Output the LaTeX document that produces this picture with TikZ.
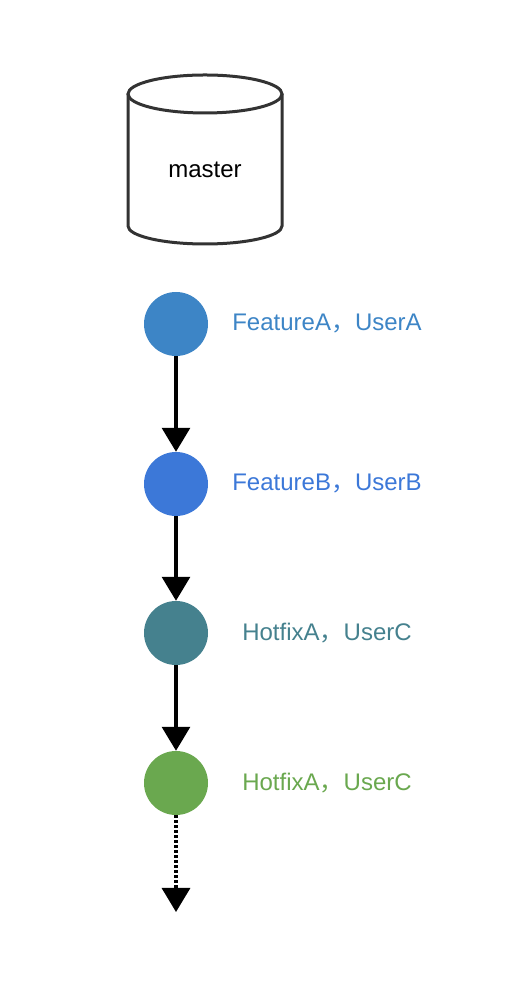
\documentclass[tikz,border=0pt]{standalone}
\usepackage{fontspec}
\setmainfont{Liberation Sans}
\newfontfamily\cjk{Noto Sans CJK SC}
\usetikzlibrary{arrows.meta}

\definecolor{blueA}{HTML}{3D85C6}
\definecolor{blueB}{HTML}{3C78D8}
\definecolor{tealC}{HTML}{45818E}
\definecolor{greenD}{HTML}{6AA84F}
\definecolor{dbline}{HTML}{333333}

\tikzset{
	commit/.style={circle,fill=#1,minimum size=64pt,inner sep=0pt},
	tag/.style={text=#1,font=\fontsize{24}{28}\selectfont},
	db/.style={draw=dbline,line width=3pt},
	flow/.style={->,line width=3.2pt}
}

\begin{document}
\begin{tikzpicture}[x=1pt,y=1pt,>={Triangle[length=24pt,width=28pt]}]
	\useasboundingbox (0,0) rectangle (526,982);

	% master database
	\draw[db,fill=white] (128,888) -- (128,756) arc[start angle=180,end angle=360,x radius=77,y radius=18] -- (282,888);
	\draw[db] (205,888) ellipse [x radius=77,y radius=19];
	\node[font=\fontsize{24}{28}\selectfont] (master) at (205,812) {master};

	% commits
	\node[commit=blueA]  (A) at (176,658) {};
	\node[commit=blueB]  (B) at (176,498) {};
	\node[commit=tealC]  (C) at (176,349) {};
	\node[commit=greenD] (D) at (176,199) {};
	\coordinate (E) at (176,70);

	\node[tag=blueA]  (tA) at (327,658) {FeatureA{\cjk ，}UserA};
	\node[tag=blueB]  (tB) at (327,498) {FeatureB{\cjk ，}UserB};
	\node[tag=tealC]  (tC) at (327,349) {HotfixA{\cjk ，}UserC};
	\node[tag=greenD] (tD) at (327,199) {HotfixA{\cjk ，}UserC};

	\draw[flow] (A) -- (B);
	\draw[flow] (B) -- (C);
	\draw[flow] (C) -- (D);
	\draw[flow,dash pattern=on 3pt off 2pt] (D) -- (E);
\end{tikzpicture}
\end{document}
